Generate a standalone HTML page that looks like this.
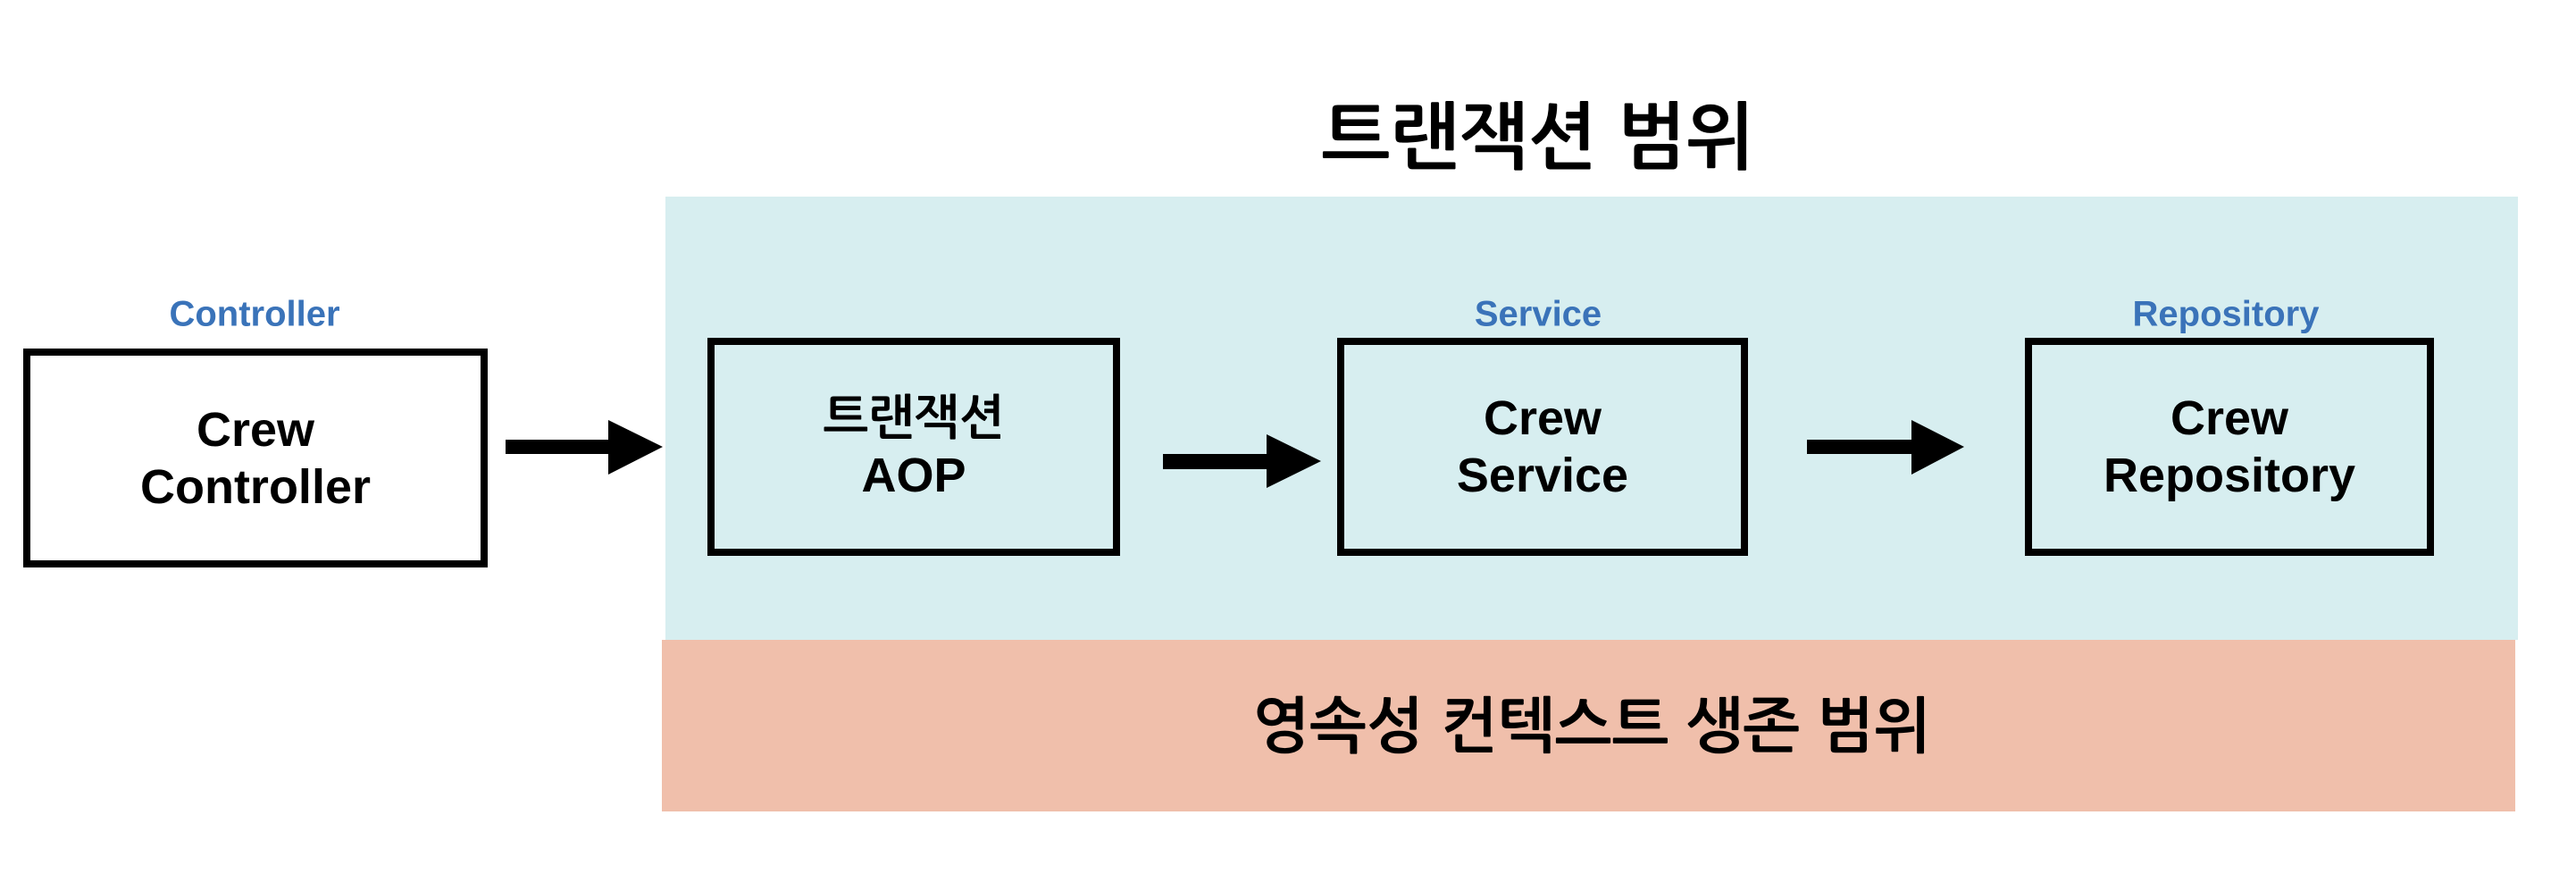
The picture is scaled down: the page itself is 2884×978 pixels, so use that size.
<!DOCTYPE html>
<html><head><meta charset="utf-8"><style>
html,body{margin:0;padding:0;background:#fff;}
body{width:2884px;height:978px;position:relative;overflow:hidden;font-family:"Liberation Sans","NanumGothic","Noto Sans CJK KR",sans-serif;}
.a{position:absolute;}
.blue{left:745px;top:220px;width:2074px;height:496px;background:#d7eef0;}
.pink{left:741px;top:716px;width:2075px;height:192px;background:#f0bfab;}
.box{position:absolute;border:8px solid #000;box-sizing:border-box;display:flex;align-items:center;justify-content:center;text-align:center;font-weight:bold;font-size:54px;line-height:64px;color:#000;}
.lbl{position:absolute;color:#3a73b9;font-weight:bold;font-size:40px;transform:translate(-50%,-50%);white-space:nowrap;}
.t{position:absolute;font-weight:bold;color:#000;white-space:nowrap;transform:translate(-50%,-50%);}
</style></head><body>
<div class="a blue"></div>
<div class="a pink"></div>
<div class="t" style="left:1722px;top:155px;font-size:82px;">트랜잭션 범위</div>
<div class="t" style="left:1782px;top:813px;font-size:68px;">영속성 컨텍스트 생존 범위</div>

<div class="lbl" style="left:285px;top:352px;">Controller</div>
<div class="lbl" style="left:1722px;top:352px;">Service</div>
<div class="lbl" style="left:2492px;top:352px;">Repository</div>

<div class="box" style="left:26px;top:390px;width:520px;height:245px;background:#fff;">Crew<br>Controller</div>
<div class="box" style="left:792px;top:378px;width:462px;height:244px;">트랜잭션<br>AOP</div>
<div class="box" style="left:1497px;top:378px;width:460px;height:244px;">Crew<br>Service</div>
<div class="box" style="left:2267px;top:378px;width:458px;height:244px;">Crew<br>Repository</div>

<svg class="a" style="left:0;top:0" width="2884" height="978">
<polygon points="566,492 681,492 681,470 742,500 681,531 681,508 566,508" fill="#000"/>
<polygon points="1302,508 1418,508 1418,486 1479,516 1418,546 1418,525 1302,525" fill="#000"/>
<polygon points="2023,492 2140,492 2140,470 2199,500 2140,531 2140,508 2023,508" fill="#000"/>
</svg>
</body></html>
